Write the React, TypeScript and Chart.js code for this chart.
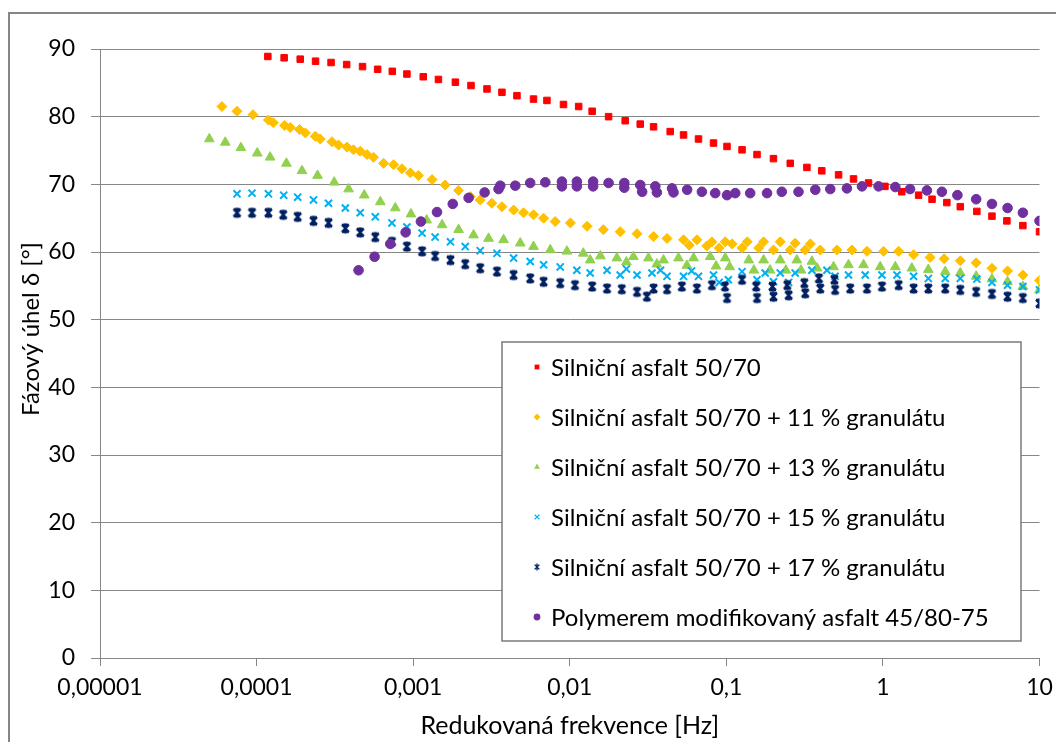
import React, { useEffect, useRef } from 'react';
import { Chart, registerables } from 'chart.js';

Chart.register(...registerables);

const FONT = 'Lato, "Open Sans", sans-serif';

const seriesNames = [
  'Silniční asfalt 50/70',
  'Silniční asfalt 50/70 + 11 % granulátu',
  'Silniční asfalt 50/70 + 13 % granulátu',
  'Silniční asfalt 50/70 + 15 % granulátu',
  'Silniční asfalt 50/70 + 17 % granulátu',
  'Polymerem modifikovaný asfalt 45/80-75',
];
const seriesColors = ['#FF0000', '#FFC000', '#92D050', '#00B0F0', '#002060', '#7030A0'];
const seriesStyles = ['rect', 'rectRot', 'triangle', 'crossRot', 'asterisk', 'circle'];

const xTickValues = [1e-5, 1e-4, 1e-3, 1e-2, 1e-1, 1, 10];
const xTickLabels = ['0,00001', '0,0001', '0,001', '0,01', '0,1', '1', '10'];
const yTickStep = 10;

// Silniční asfalt 50/70
const redX = [1.18e-4, 1.50e-4, 1.90e-4, 2.38e-4, 2.99e-4, 3.76e-4, 4.75e-4, 5.93e-4, 7.36e-4, 9.12e-4,
  1.16e-3, 1.45e-3, 1.86e-3, 2.34e-3, 2.96e-3, 3.69e-3, 4.60e-3, 5.87e-3, 7.15e-3, 9.12e-3,
  1.14e-2, 1.39e-2, 1.77e-2, 2.26e-2, 2.82e-2, 3.43e-2, 4.38e-2, 5.33e-2, 6.64e-2, 8.28e-2,
  0.101, 0.126, 0.157, 0.200, 0.256, 0.327, 0.407, 0.521, 0.649, 0.809,
  1.03, 1.32, 1.69, 2.06, 2.56, 3.12, 3.98, 4.97, 6.19, 7.83, 10.0];
const redY = [88.9, 88.7, 88.5, 88.2, 88.0, 87.7, 87.4, 87.0, 86.7, 86.3,
  85.9, 85.5, 85.1, 84.6, 84.1, 83.6, 83.1, 82.6, 82.4, 81.8,
  81.5, 80.8, 80.0, 79.4, 78.9, 78.5, 77.8, 77.3, 76.7, 76.1,
  75.6, 75.1, 74.4, 73.8, 73.1, 72.5, 72.0, 71.4, 70.8, 70.2,
  69.7, 68.9, 68.4, 67.8, 67.3, 66.7, 66.0, 65.3, 64.6, 63.9, 63.0];

// + 11 % granulátu
const yellowX = [6.01e-5, 7.50e-5, 9.48e-5, 1.19e-4, 1.28e-4, 1.51e-4, 1.64e-4, 1.88e-4, 2.05e-4, 2.37e-4,
  2.55e-4, 3.03e-4, 3.34e-4, 3.78e-4, 4.16e-4, 4.59e-4, 5.07e-4, 5.58e-4, 6.47e-4, 7.50e-4,
  8.48e-4, 9.59e-4, 1.08e-3, 1.32e-3, 1.60e-3, 1.95e-3, 2.32e-3, 2.68e-3, 3.18e-3, 3.69e-3,
  4.38e-3, 5.07e-3, 5.87e-3, 6.81e-3, 8.07e-3, 1.01e-2, 1.29e-2, 1.64e-2, 2.10e-2, 2.69e-2,
  3.43e-2, 4.18e-2, 5.33e-2, 5.80e-2, 6.49e-2, 7.50e-2, 8.09e-2, 9.00e-2, 9.84e-2, 0.109,
  0.126, 0.136, 0.161, 0.173, 0.200, 0.221, 0.256, 0.275, 0.319, 0.344,
  0.398, 0.508, 0.634, 0.791, 1.01, 1.26, 1.57, 2.00, 2.46, 3.12,
  3.94, 4.97, 6.25, 7.83, 10.0];
const yellowY = [81.5, 80.8, 80.3, 79.5, 79.1, 78.7, 78.4, 78.1, 77.6, 77.1,
  76.7, 76.3, 75.8, 75.5, 75.1, 74.9, 74.4, 74.0, 73.1, 72.9,
  72.3, 71.7, 71.3, 70.7, 69.9, 69.1, 68.2, 67.7, 67.2, 66.7,
  66.2, 65.8, 65.5, 65.0, 64.5, 64.3, 63.8, 63.3, 63.0, 62.7,
  62.3, 62.0, 61.8, 61.0, 61.8, 60.9, 61.5, 60.6, 61.5, 61.2,
  60.6, 61.5, 60.6, 61.5, 60.3, 61.5, 60.3, 61.3, 60.3, 61.2,
  60.3, 60.3, 60.3, 60.1, 60.1, 60.1, 59.6, 59.2, 59.0, 58.7,
  58.4, 57.6, 57.2, 56.6, 55.8];

// + 13 % granulátu
const greenX = [4.99e-5, 6.31e-5, 7.94e-5, 1.01e-4, 1.22e-4, 1.55e-4, 1.95e-4, 2.45e-4, 3.13e-4, 3.87e-4,
  4.87e-4, 6.17e-4, 7.69e-4, 9.68e-4, 1.22e-3, 1.53e-3, 1.95e-3, 2.43e-3, 3.03e-3, 3.78e-3,
  4.83e-3, 5.87e-3, 7.51e-3, 9.59e-3, 1.22e-2, 1.35e-2, 1.57e-2, 2.00e-2, 2.30e-2, 2.55e-2,
  3.18e-2, 3.60e-2, 3.97e-2, 4.95e-2, 5.60e-2, 6.18e-2, 7.89e-2, 8.60e-2, 9.84e-2, 0.105,
  0.139, 0.150, 0.173, 0.190, 0.221, 0.240, 0.282, 0.300, 0.352, 0.380,
  0.484, 0.603, 0.752, 0.961, 1.20, 1.53, 1.95, 2.50, 3.12, 3.94,
  4.97, 6.25, 7.83, 10.0];
const greenY = [76.7, 76.2, 75.4, 74.6, 74.0, 73.1, 72.0, 71.3, 70.3, 69.3,
  68.4, 67.4, 66.5, 65.6, 64.7, 64.0, 63.3, 62.5, 62.0, 61.8,
  61.3, 60.8, 60.3, 60.1, 59.8, 58.8, 59.4, 59.1, 58.5, 59.3,
  59.1, 58.2, 58.8, 59.1, 58.0, 59.1, 59.3, 57.9, 59.1, 57.8,
  58.8, 57.3, 58.8, 57.3, 58.8, 57.3, 58.8, 57.3, 58.6, 57.6,
  57.8, 58.1, 58.1, 57.8, 57.8, 57.6, 57.4, 57.1, 56.9, 56.4,
  56.0, 55.6, 54.9, 54.4];

// + 15 % granulátu
const blueX = [7.50e-5, 9.35e-5, 1.19e-4, 1.49e-4, 1.83e-4, 2.31e-4, 2.88e-4, 3.69e-4, 4.59e-4, 5.73e-4,
  7.32e-4, 9.12e-4, 1.14e-3, 1.38e-3, 1.73e-3, 2.15e-3, 2.68e-3, 3.43e-3, 4.38e-3, 5.59e-3,
  6.81e-3, 8.69e-3, 1.11e-2, 1.35e-2, 1.73e-2, 2.10e-2, 2.30e-2, 2.69e-2, 3.35e-2, 3.80e-2,
  4.18e-2, 5.33e-2, 6.00e-2, 6.64e-2, 8.28e-2, 9.00e-2, 0.103, 0.126, 0.157, 0.177,
  0.200, 0.221, 0.250, 0.275, 0.352, 0.439, 0.495, 0.603, 0.771, 0.986,
  1.23, 1.57, 1.95, 2.50, 3.12, 3.98, 4.97, 6.25, 7.83, 10.0];
const blueY = [68.6, 68.7, 68.6, 68.4, 68.1, 67.7, 67.2, 66.5, 65.8, 65.2,
  64.3, 63.7, 62.8, 62.2, 61.5, 60.8, 60.2, 59.8, 59.1, 58.6,
  58.1, 57.8, 57.3, 56.9, 57.3, 56.6, 57.5, 56.6, 56.9, 57.3,
  56.4, 56.4, 57.2, 56.4, 56.6, 55.5, 55.9, 57.1, 55.9, 56.9,
  55.6, 56.9, 55.5, 56.9, 57.3, 57.3, 56.4, 56.6, 56.6, 56.6,
  56.6, 56.4, 56.1, 56.1, 56.1, 56.0, 55.5, 55.1, 54.9, 54.4];

// + 17 % granulátu
const navyX = [7.50e-5, 9.35e-5, 1.19e-4, 1.48e-4, 1.83e-4, 2.31e-4, 2.88e-4, 3.69e-4, 4.59e-4, 5.73e-4,
  7.32e-4, 9.12e-4, 1.14e-3, 1.38e-3, 1.73e-3, 2.15e-3, 2.68e-3, 3.43e-3, 4.38e-3, 5.59e-3,
  6.81e-3, 8.69e-3, 1.08e-2, 1.39e-2, 1.73e-2, 2.15e-2, 2.69e-2, 3.11e-2, 3.43e-2, 4.18e-2,
  5.20e-2, 6.49e-2, 8.09e-2, 0.098, 0.101, 0.126, 0.155, 0.157, 0.197, 0.200,
  0.245, 0.250, 0.315, 0.319, 0.390, 0.398, 0.490, 0.495, 0.618, 0.791,
  0.986, 1.26, 1.57, 1.95, 2.50, 3.12, 3.94, 4.97, 6.25, 7.83, 10.0];
const navyY = [65.8, 65.8, 65.8, 65.5, 65.2, 64.6, 64.3, 63.5, 62.9, 62.2,
  61.5, 60.8, 60.1, 59.4, 58.8, 58.2, 57.6, 57.1, 56.6, 56.1,
  55.6, 55.4, 55.1, 54.9, 54.6, 54.5, 54.1, 53.4, 54.6, 54.5,
  54.9, 54.6, 55.1, 54.9, 53.2, 55.9, 54.9, 53.2, 54.9, 53.4,
  55.1, 53.6, 55.4, 53.9, 56.1, 54.6, 55.9, 54.4, 54.6, 54.6,
  54.9, 55.1, 54.6, 54.6, 54.6, 54.4, 54.1, 53.8, 53.4, 53.2, 52.4];

// Polymerem modifikovaný asfalt 45/80-75
const purpleX = [4.48e-4, 5.67e-4, 7.14e-4, 8.95e-4, 1.12e-3, 1.42e-3, 1.79e-3, 2.26e-3, 2.86e-3, 3.51e-3,
  3.60e-3, 4.49e-3, 5.59e-3, 6.98e-3, 8.91e-3, 8.91e-3, 1.11e-2, 1.11e-2, 1.41e-2, 1.41e-2,
  1.77e-2, 2.23e-2, 2.23e-2, 2.82e-2, 2.90e-2, 3.52e-2, 3.60e-2, 4.50e-2, 4.60e-2, 5.62e-2,
  6.98e-2, 8.49e-2, 0.101, 0.114, 0.142, 0.182, 0.226, 0.289, 0.370, 0.461,
  0.589, 0.735, 0.938, 1.20, 1.49, 1.91, 2.38, 2.99, 3.94, 4.97,
  6.25, 7.83, 10.0];
const purpleY = [57.3, 59.3, 61.2, 62.9, 64.5, 65.9, 67.1, 68.0, 68.8, 69.3,
  69.8, 69.8, 70.2, 70.3, 70.4, 69.7, 70.4, 69.7, 70.4, 69.7,
  70.2, 70.2, 69.5, 69.9, 68.9, 69.7, 68.8, 69.4, 68.8, 69.2,
  68.9, 68.7, 68.4, 68.7, 68.7, 68.7, 68.9, 68.9, 69.2, 69.3,
  69.4, 69.7, 69.7, 69.6, 69.3, 69.1, 68.9, 68.4, 67.8, 67.1,
  66.5, 65.8, 64.6];

const seriesX = [redX, yellowX, greenX, blueX, navyX, purpleX];
const seriesY = [redY, yellowY, greenY, blueY, navyY, purpleY];

function drawMarker(ctx: CanvasRenderingContext2D, style: string, x: number, y: number, r: number, color: string, lw: number) {
  ctx.save();
  ctx.fillStyle = color;
  ctx.strokeStyle = color;
  ctx.lineWidth = lw;
  ctx.beginPath();
  if (style === 'rect') {
    const s = r * Math.SQRT1_2;
    ctx.rect(x - s, y - s, 2 * s, 2 * s);
    ctx.fill();
  } else if (style === 'rectRot') {
    ctx.moveTo(x - r, y); ctx.lineTo(x, y - r); ctx.lineTo(x + r, y); ctx.lineTo(x, y + r); ctx.closePath();
    ctx.fill();
  } else if (style === 'triangle') {
    ctx.moveTo(x, y - r); ctx.lineTo(x + r * 0.866, y + r * 0.5); ctx.lineTo(x - r * 0.866, y + r * 0.5); ctx.closePath();
    ctx.fill();
  } else if (style === 'crossRot') {
    const d = r * Math.SQRT1_2;
    ctx.moveTo(x - d, y - d); ctx.lineTo(x + d, y + d);
    ctx.moveTo(x - d, y + d); ctx.lineTo(x + d, y - d);
    ctx.stroke();
  } else if (style === 'asterisk') {
    const d = r * Math.SQRT1_2;
    ctx.moveTo(x - d, y - d); ctx.lineTo(x + d, y + d);
    ctx.moveTo(x - d, y + d); ctx.lineTo(x + d, y - d);
    ctx.moveTo(x, y - r); ctx.lineTo(x, y + r);
    ctx.stroke();
  } else {
    ctx.arc(x, y, r, 0, Math.PI * 2);
    ctx.fill();
  }
  ctx.restore();
}

function makeAsterisk(color: string, r: number, lw: number): HTMLCanvasElement {
  const size = Math.ceil(2 * r + 2 * lw + 2);
  const c = document.createElement('canvas');
  c.width = size;
  c.height = size;
  const cx = c.getContext('2d') as CanvasRenderingContext2D;
  const m = size / 2;
  drawMarker(cx, 'asterisk', m, m, r, color, lw);
  cx.strokeStyle = color;
  cx.lineWidth = lw;
  cx.beginPath();
  const d = r * Math.SQRT1_2;
  cx.moveTo(m - d, m - d); cx.lineTo(m + d, m - d);
  cx.moveTo(m - d, m + d); cx.lineTo(m + d, m + d);
  cx.stroke();
  return c;
}

const framePlugin = {
  id: 'frame',
  beforeDraw(chart: any) {
    const ctx = chart.ctx as CanvasRenderingContext2D;
    ctx.save();
    ctx.fillStyle = '#ffffff';
    ctx.fillRect(0, 0, chart.width, chart.height);
    ctx.strokeStyle = '#868686';
    ctx.lineWidth = 2;
    ctx.strokeRect(9, 13, chart.width + 20, chart.height + 20);
    ctx.restore();
  },
  afterDraw(chart: any) {
    const ctx = chart.ctx as CanvasRenderingContext2D;
    ctx.save();
    ctx.translate(31, 329);
    ctx.rotate(-Math.PI / 2);
    ctx.fillStyle = '#000';
    ctx.font = `24px ${FONT}`;
    ctx.textAlign = 'center';
    ctx.textBaseline = 'middle';
    ctx.fillText('Fázový úhel δ [°]', 0, 0);
    ctx.restore();

    ctx.save();
    ctx.fillStyle = '#ffffff';
    ctx.fillRect(502, 342, 519, 299);
    ctx.strokeStyle = '#7a7a7a';
    ctx.lineWidth = 1.5;
    ctx.strokeRect(502, 342, 519, 299);
    ctx.font = `24px ${FONT}`;
    ctx.textAlign = 'left';
    ctx.textBaseline = 'middle';
    seriesNames.forEach((name, i) => {
      const y = 367 + i * 50;
      drawMarker(ctx, seriesStyles[i], 537, y, 3.4, seriesColors[i], 1.3);
      ctx.fillStyle = '#000';
      ctx.fillText(name, 551, y + 1);
    });
    ctx.restore();
  },
};

const pointRadius = [4.6, 5.0, 5.6, 5.0, 5.0, 4.8];
const pointBorder = [1, 1, 1, 2, 2, 1];

export default function App() {
  const ref = useRef<HTMLCanvasElement | null>(null);
  useEffect(() => {
    if (!ref.current) return;
    const asterisk = makeAsterisk(seriesColors[4], 5, 2.2);
    const datasets = seriesNames.map((name, i) => ({
      label: name,
      data: seriesX[i].map((x, j) => ({ x, y: seriesY[i][j] })),
      pointStyle: seriesStyles[i] === 'asterisk' ? asterisk : seriesStyles[i],
      pointRadius: pointRadius[i],
      pointHoverRadius: pointRadius[i],
      backgroundColor: seriesColors[i],
      borderColor: seriesColors[i],
      borderWidth: pointBorder[i],
      showLine: false,
      order: 5 - i,
    }));
    const chart = new Chart(ref.current, {
      type: 'scatter',
      data: { datasets } as any,
      plugins: [framePlugin],
      options: {
        responsive: false,
        animation: false,
        layout: { padding: { left: 0, right: 16.5, top: 49, bottom: 0 } },
        plugins: { legend: { display: false }, tooltip: { enabled: false } },
        scales: {
          x: {
            type: 'logarithmic',
            min: 1e-5,
            max: 10,
            afterBuildTicks: (s: any) => { s.ticks = xTickValues.map((v) => ({ value: v })); },
            afterFit: (s: any) => { s.height = 84; s.paddingRight = 0; s.paddingLeft = 0; },
            ticks: {
              autoSkip: false,
              maxRotation: 0,
              minRotation: 0,
              padding: 8,
              color: '#000',
              font: { family: FONT, size: 23 },
              callback: (_v: any, i: number) => xTickLabels[i],
            },
            grid: { display: true, drawOnChartArea: false, drawTicks: true, tickLength: 8, color: '#868686' },
            border: { display: true, color: '#868686', width: 1 },
            title: {
              display: true,
              text: 'Redukovaná frekvence [Hz]',
              color: '#000',
              font: { family: FONT, size: 25 },
              padding: { top: 0, bottom: 1 },
            },
          },
          y: {
            min: 0,
            max: 90,
            afterFit: (s: any) => { s.width = 100; s.paddingTop = 0; s.paddingBottom = 0; },
            ticks: {
              stepSize: yTickStep,
              padding: 16,
              color: '#000',
              font: { family: FONT, size: 23 },
            },
            grid: { color: '#868686', tickLength: 9 },
            border: { display: true, color: '#868686', width: 1 },
          },
        },
      } as any,
    });
    return () => chart.destroy();
  }, []);
  return (
    <div style={{ position: 'fixed', left: 0, top: 0, width: 1056, height: 742, background: '#fff' }}>
      <canvas ref={ref} width={1056} height={742} />
    </div>
  );
}
